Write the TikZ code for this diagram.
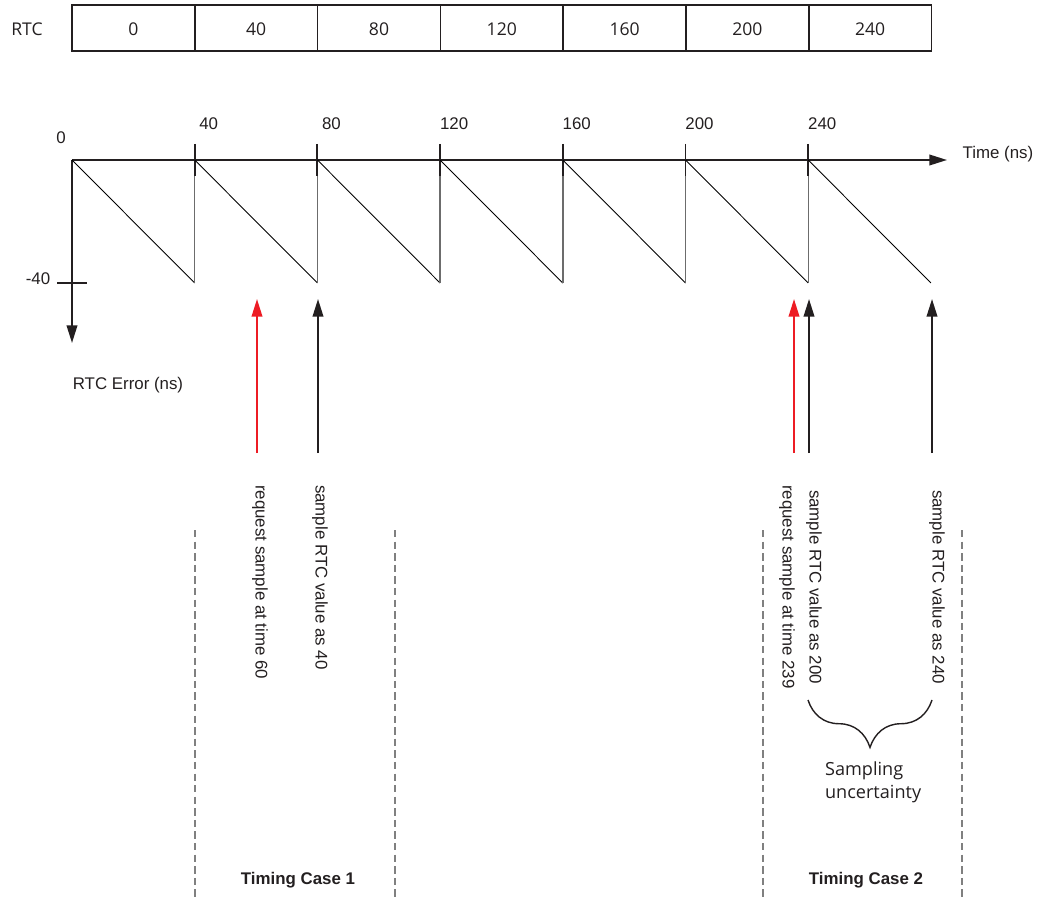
\documentclass[tikz,border=0pt]{standalone}
\usepackage{fontspec}
\setmainfont{Liberation Sans}
\newfontfamily\myriad{Open Sans}
\usetikzlibrary{decorations.pathreplacing,arrows.meta}
\definecolor{reqred}{RGB}{237,28,36}
\definecolor{inkgray}{RGB}{35,31,32}

\begin{document}
\begin{tikzpicture}[x=0.02cm,y=-0.02cm,>={Triangle[length=10pt,width=6pt]},
  every node/.style={inner sep=1pt,text=inkgray,font=\fontsize{9.6}{11.5}\selectfont},
  cell/.style={font=\myriad\fontsize{10}{12}\selectfont},
  axis/.style={->,line width=1.1pt,inkgray},
  tickmark/.style={line width=1.1pt,inkgray},
  saw/.style={line width=0.5pt,black},
  drop/.style={line width=0.8pt,gray!85!black},
  probe/.style={->,line width=1.1pt},
  note/.style={rotate=-90,anchor=west},
  caseline/.style={dash pattern=on 4.2pt off 2.4pt,line width=0.6pt,gray},
  casetitle/.style={font=\bfseries\fontsize{9.6}{11.5}\selectfont}]
  \useasboundingbox (0,0) rectangle (1044,898);

  % RTC register row
  \node[cell] (rtc) at (27,29) {RTC};
  \foreach \v [count=\i from 0] in {0,40,...,240} {
    \draw[line width=0.85pt,inkgray] ({72+122.8*\i},5) rectangle ({194.8+122.8*\i},51);
    \node[cell] (cell\i) at ({133.4+122.8*\i},29) {\v};
  }

  % axes
  \coordinate (o) at (72,160);
  \coordinate (tend) at (947,160);
  \coordinate (eend) at (72,343);
  \draw[axis] (o) -- (tend);
  \draw[axis] (o) -- (eend);
  \node (tlab) at (998,154) {Time (ns)};
  \node (elab) at (128,385) {RTC Error (ns)};
  \node (zero) at (61,138) {0};
  \coordinate (m40a) at (57,283);
  \coordinate (m40b) at (87,283);
  \draw[tickmark] (m40a) -- (m40b);
  \node (m40) at (38,279) {-40};

  % ticks and sawtooth error
  \foreach \t [count=\i] in {40,80,...,240} {
    \draw[tickmark] ({72+122.7*\i},144) -- ({72+122.7*\i},176);
    \node (tk\i) at ({86+122.7*\i},124) {\t};
  }
  \foreach \i in {0,...,6} \draw[saw] ({72+122.7*\i},160) -- ({194.7+122.7*\i},283);
  \foreach \i in {1,...,6} \draw[drop] ({72+122.7*\i},176) -- ({72+122.7*\i},283);

  % sample arrows
  \foreach \x/\c/\n in {257/reqred/pa,318/inkgray/pb,794/reqred/pc,809/inkgray/pd,932/inkgray/pe} {
    \coordinate (\n0) at (\x,453);
    \coordinate (\n1) at (\x,299);
    \draw[probe,\c] (\n0) -- (\n1);
  }
  \node[note] (note1) at (260,483) {request sample at time 60};
  \node[note] (note2) at (320,483) {sample RTC value as 40};
  \node[note] (note3) at (787,483) {request sample at time 239};
  \node[note] (note4) at (814,488) {sample RTC value as 200};
  \node[note] (note5) at (937,488) {sample RTC value as 240};

  % uncertainty brace
  \coordinate (bl) at (808,700);
  \coordinate (br) at (932,700);
  \draw[line width=0.8pt,inkgray,decorate,decoration={brace,amplitude=27pt}] (br) -- (bl);
  \node[font=\myriad\fontsize{10.3}{13}\selectfont,align=left,anchor=north west] (unc) at (823,760) {Sampling\\uncertainty};

  % timing cases
  \foreach \x [count=\i] in {195,395,763,962} {
    \coordinate (dt\i) at (\x,530);
    \coordinate (db\i) at (\x,897);
    \draw[caseline] (dt\i) -- (db\i);
  }
  \node[casetitle] (case1) at (298,880) {Timing Case 1};
  \node[casetitle] (case2) at (866,880) {Timing Case 2};
\end{tikzpicture}
\end{document}
